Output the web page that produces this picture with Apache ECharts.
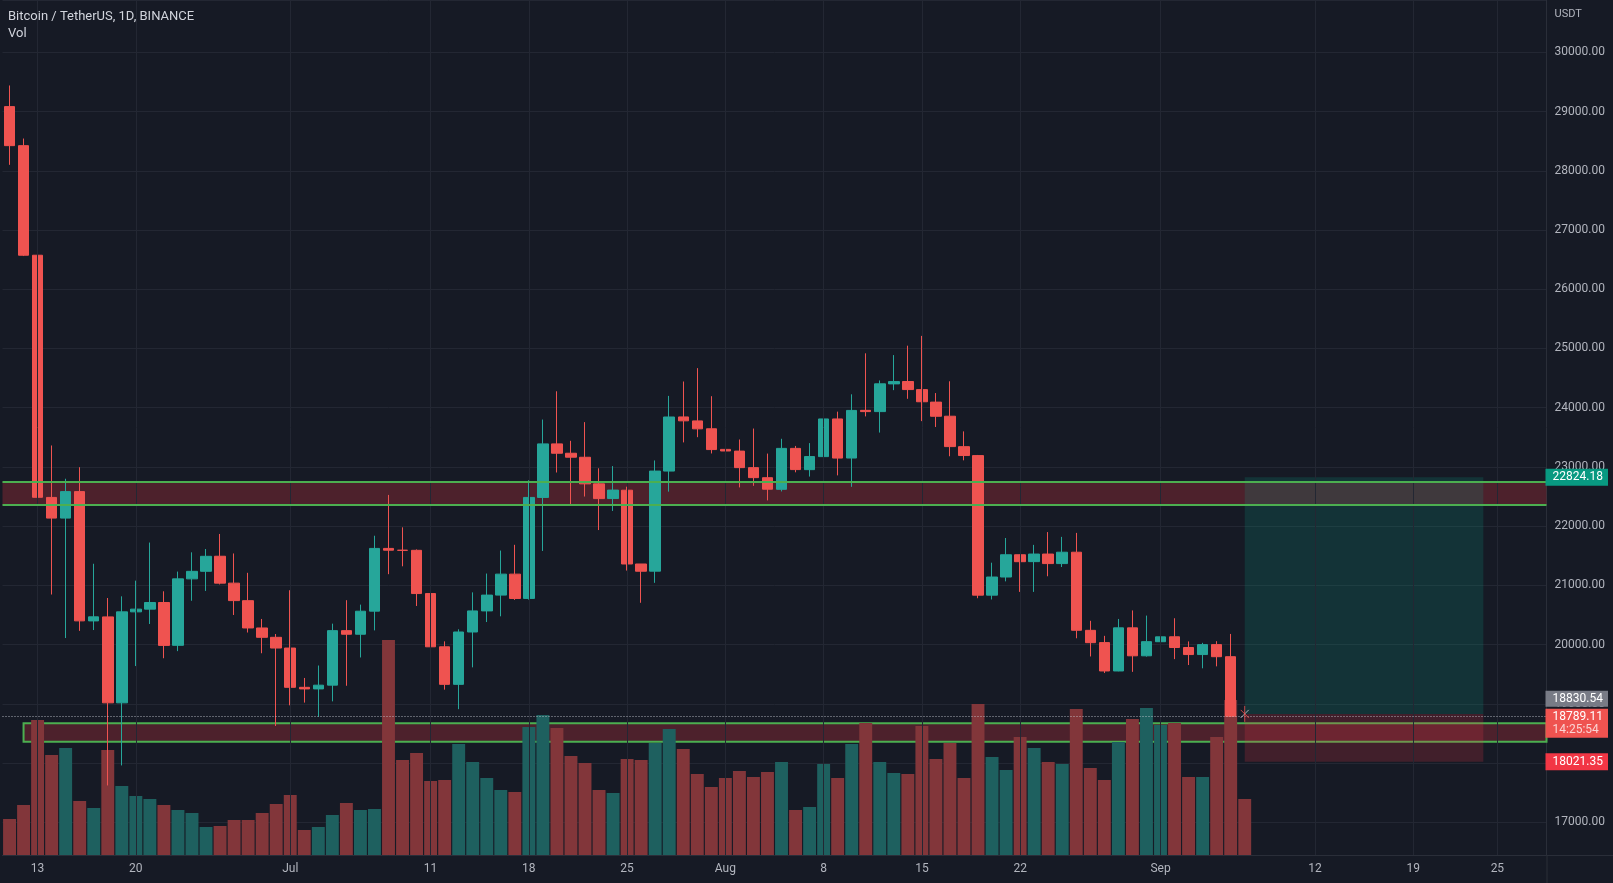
<!DOCTYPE html>
<html>
<head>
<meta charset="utf-8">
<script src="https://cdn.jsdelivr.net/npm/echarts@6/dist/echarts.min.js"></script>
<style>
html,body{margin:0;padding:0;background:#161a25;}
#c{width:1613px;height:883px;}
</style>
</head>
<body>
<div id="c"></div>
<script>
// ---------- DATA ----------
const START_UTC = Date.UTC(2022, 5, 11); // first category: 2022-06-11
const N_DAYS = 110;                      // categories through 2022-09-28

// Daily candles 2022-06-11 .. 2022-09-06
const opens = [29083,28424,26574,22485,22136,22583,20400,20468,19017,20553,
  20599,20711,19988,21110,21238,21492,21038,20742,20281,20123,
  19942,19279,19252,19316,20236,20175,20565,21624,21594,21592,
  20862,19963,19329,20213,20569,20836,21190,20780,22485,23389,
  23231,23163,22714,22466,22607,21361,21240,22930,23844,23777,
  23644,23296,23267,22988,22818,22622,23313,22954,23174,23810,
  23150,23955,23934,24402,24442,24305,24094,23856,23342,23191,
  20835,21141,21517,21401,21529,21368,21560,20241,20034,19555,
  20283,19811,20049,20132,19951,19832,20000,19796];
const highs = [29440,28544,26895,23362,22800,22995,21365,20787,20815,21080,
  21723,20900,21233,21558,21614,21868,21539,21212,20433,20179,
  20918,19437,19647,20354,20750,20675,21838,22527,21980,21607,
  20866,20055,20259,20882,21200,21588,21685,22775,23800,24277,
  23441,23756,22977,23014,22666,21361,23109,24199,24442,24668,
  24194,23509,23463,23648,23225,23475,23354,23402,24245,23933,
  24226,24918,24460,24888,25047,25212,24247,24446,23600,23202,
  21383,21800,21522,21684,21900,21819,21886,20402,20148,20433,
  20577,20490,20208,20445,20054,20030,20058,20180];
const lows = [28100,26560,21925,20846,20111,20232,20246,17622,17960,19638,
  20348,19770,19890,20740,20906,21016,20500,20204,19854,18626,
  18975,19021,18782,19042,19305,19783,20240,21189,21322,20652,
  19875,19240,18910,19616,20381,20478,20755,20760,21581,22906,
  22341,22500,21934,22257,21250,20706,21043,22583,23414,23502,
  23227,22850,22654,22681,22435,22586,22909,22837,23154,22857,
  22664,23853,23580,24296,24150,23773,23674,23180,23111,20783,
  20762,21068,20890,20890,21154,21310,20107,19800,19520,19550,
  19540,19797,19565,19755,19655,19600,19633,18800];
const closes = [28424,26574,22487,22136,22583,20401,20469,19017,20553,20599,
  20711,19987,21110,21237,21491,21038,20743,20281,20123,19942,
  19279,19252,19315,20236,20175,20564,21624,21594,21591,20862,
  19963,19329,20213,20569,20836,21190,20779,22485,23389,23231,
  23164,22714,22465,22609,21361,21239,22930,23843,23778,23643,
  23293,23269,22988,22819,22624,23313,22955,23175,23810,23149,
  23954,23934,24403,24441,24306,24100,23855,23343,23192,20835,
  21141,21517,21400,21529,21368,21560,20242,20033,19555,20283,
  19811,20050,20131,19951,19832,20000,19796,18789.11];

// Volume (thousand BTC, estimated) 2022-06-11 .. 2022-09-07
const volumes = [72,100,270,200,214,108,94,210,138,118,
  112,100,90,84,56,58,70,70,84,102,
  120,50,56,80,104,90,92,430,190,204,
  148,150,222,186,154,130,126,256,280,254,
  198,184,130,124,192,190,224,252,212,162,
  136,154,168,156,166,186,90,96,182,154,
  222,264,186,164,162,258,192,224,154,302,
  196,170,236,214,186,182,292,174,150,226,
  272,294,260,264,156,156,236,310,112];

// Time-axis tick labels
const tickDates = ['2022-06-13','2022-06-20','2022-07-01','2022-07-11','2022-07-18','2022-07-25',
  '2022-08-01','2022-08-08','2022-08-15','2022-08-22','2022-09-01','2022-09-12','2022-09-19','2022-09-25'];
const tickTexts = ['13','20','Jul','11','18','25','Aug','8','15','22','Sep','12','19','25'];

// Drawings
const zoneUpper = [22357, 22750];
const zoneLower = [18361, 18671];
const zoneLowerStart = '2022-06-12';
const posStart = '2022-09-07';
const posEnd = '2022-09-24';
const posTarget = 22824.18;
const posEntry = 18830.54;
const posStop = 18021.35;
const lastPrice = 18789.11;
const countdown = '14:25:54';
const titleText = 'Bitcoin / TetherUS, 1D, BINANCE';
const volText = 'Vol';
const currencyText = 'USDT';
const priceRange = [16448, 30883];
const volumeMax = 1710;

// ---------- BUILD ----------
const dates = [];
for (let i = 0; i < N_DAYS; i++) {
  dates.push(new Date(START_UTC + i * 86400000).toISOString().slice(0, 10));
}
const tickMap = {};
tickDates.forEach((d, i) => { tickMap[d] = tickTexts[i]; });

const UP = '#26a69a', DOWN = '#ef5350';
const UP_VOL = '#1e605f', DOWN_VOL = '#82363a';
const GRID_C = '#232733', AXIS_C = '#2a2e39', TXT = '#b2b5be';
const FONT = 'Roboto, "Liberation Sans", sans-serif';
const ZONE_FILL = 'rgba(242,54,69,0.25)';
const ZONE_LINE = '#4caf50';

const candleData = opens.map((o, i) => [o, closes[i], lows[i], highs[i]]);
const volData = volumes.map((v, i) => ({
  value: v,
  itemStyle: { color: (i < closes.length && closes[i] >= opens[i]) ? UP_VOL : DOWN_VOL }
}));
const emptyData = dates.map(() => null);

const GRID_L = 2.5, GRID_R = 66.5, GRID_B = 28;

const chart = echarts.init(document.getElementById('c'), null, { renderer: 'canvas' });

const option = {
  backgroundColor: '#161a25',
  animation: false,
  textStyle: { fontFamily: FONT },
  grid: { left: GRID_L, right: GRID_R, top: 0, bottom: GRID_B, containLabel: false, outerBoundsMode: 'none' },
  xAxis: {
    type: 'category', data: dates, boundaryGap: true,
    axisLine: { show: true, lineStyle: { color: AXIS_C, width: 1 } },
    axisTick: { show: false },
    splitLine: { show: false },
    axisLabel: {
      interval: (idx, val) => tickMap[val] !== undefined,
      formatter: (val) => tickMap[val] || '',
      color: TXT, fontSize: 12, margin: 8, fontFamily: FONT
    }
  },
  yAxis: [
    {
      type: 'value', position: 'right', min: priceRange[0], max: priceRange[1], splitNumber: 14,
      axisLine: { show: true, lineStyle: { color: AXIS_C, width: 1 } },
      axisTick: { show: false },
      axisLabel: {
        color: TXT, fontSize: 12, margin: 8, fontFamily: FONT,
        showMinLabel: false, showMaxLabel: false,
        formatter: (v) => v.toFixed(2)
      },
      splitLine: { show: true, lineStyle: { color: GRID_C, width: 1 } }
    },
    { type: 'value', min: 0, max: volumeMax, show: false, splitLine: { show: false } }
  ],
  series: [
    { // vertical grid lines at time ticks
      type: 'line', data: emptyData, z: 0, silent: true, showSymbol: false,
      markLine: {
        silent: true, symbol: ['none', 'none'], label: { show: false },
        lineStyle: { color: GRID_C, width: 1, type: 'solid' },
        emphasis: { disabled: true },
        data: tickDates.map(d => ({ xAxis: d }))
      }
    },
    { // volume
      name: 'Vol', type: 'bar', yAxisIndex: 1, data: volData, z: 1, silent: true,
      barCategoryGap: '8%'
    },
    { // horizontal zones
      type: 'line', data: emptyData, z: 2, silent: true, showSymbol: false,
      markArea: {
        silent: true, emphasis: { disabled: true },
        data: [
          [{ yAxis: zoneUpper[1], itemStyle: { color: ZONE_FILL } }, { yAxis: zoneUpper[0] }],
          [{ xAxis: zoneLowerStart, yAxis: zoneLower[1], itemStyle: { color: ZONE_FILL, borderColor: ZONE_LINE, borderWidth: 2 } },
           { yAxis: zoneLower[0] }]
        ]
      },
      markLine: {
        silent: true, symbol: ['none', 'none'], label: { show: false },
        emphasis: { disabled: true },
        lineStyle: { color: ZONE_LINE, width: 2, type: 'solid' },
        data: [{ yAxis: zoneUpper[1] }, { yAxis: zoneUpper[0] }]
      }
    },
    { // candles
      name: 'BTCUSDT', type: 'candlestick', data: candleData, z: 3, silent: true,
      barWidth: 11,
      itemStyle: { color: UP, color0: DOWN, borderColor: UP, borderColor0: DOWN, borderWidth: 1 }
    },
    { // long position tool
      type: 'line', data: emptyData, z: 4, silent: true, showSymbol: false,
      markArea: {
        silent: true, emphasis: { disabled: true },
        data: [
          [{ xAxis: posStart, yAxis: posTarget, itemStyle: { color: 'rgba(8,153,129,0.2)' } }, { xAxis: posEnd, yAxis: posEntry }],
          [{ xAxis: posStart, yAxis: posEntry, itemStyle: { color: 'rgba(242,54,69,0.2)' } }, { xAxis: posEnd, yAxis: posStop }]
        ]
      }
    },
    { // last price line
      type: 'line', data: emptyData, z: 5, silent: true, showSymbol: false,
      markLine: {
        silent: true, symbol: ['none', 'none'], label: { show: false },
        emphasis: { disabled: true },
        lineStyle: { color: 'rgba(209,212,220,0.8)', width: 1, type: [1, 2] },
        data: [{ yAxis: lastPrice }]
      }
    }
  ]
};
chart.setOption(option);

// ---------- overlay labels placed through the price scale ----------
const W = chart.getWidth(), H = chart.getHeight();
const xR = W - GRID_R;
const yB = H - GRID_B;
const py = v => chart.convertToPixel({ yAxisIndex: 0 }, v);
const px = d => chart.convertToPixel({ xAxisIndex: 0 }, d);

function priceBox(yTop, h, color, text, extra) {
  const els = [
    { type: 'rect', z: 100, shape: { x: xR - 1, y: yTop, width: 1608 - xR + 1, height: h }, style: { fill: color } },
    { type: 'text', z: 101, x: xR + 6, y: yTop + (extra ? 8.5 : h / 2), style: { text: text, fill: '#ffffff', font: '12px ' + FONT, textVerticalAlign: 'middle', verticalAlign: 'middle' } }
  ];
  if (extra) {
    els.push({ type: 'text', z: 101, x: xR + 6, y: yTop + 21.5, style: { text: extra, fill: 'rgba(255,255,255,0.75)', font: '12px ' + FONT, textVerticalAlign: 'middle', verticalAlign: 'middle' } });
  }
  return els;
}

const yLast = py(lastPrice);
const lastTop = yLast - 7.5;
const xPos = px(posStart), yEntry = py(posEntry);
const graphics = [
  { type: 'text', z: 100, x: 8, y: 16.5, style: { text: titleText, fill: '#d1d4dc', font: '13px ' + FONT, verticalAlign: 'middle', textVerticalAlign: 'middle' } },
  { type: 'text', z: 100, x: 8, y: 33.5, style: { text: volText, fill: '#d1d4dc', font: '13px ' + FONT, verticalAlign: 'middle', textVerticalAlign: 'middle' } },
  { type: 'text', z: 100, x: xR + 8, y: 14, style: { text: currencyText, fill: TXT, font: '11px ' + FONT, verticalAlign: 'middle', textVerticalAlign: 'middle' } },
  { type: 'line', z: 50, shape: { x1: xR + 0.5, y1: yB, x2: xR + 0.5, y2: H }, style: { stroke: AXIS_C, lineWidth: 1 } },
  { type: 'line', z: 50, shape: { x1: xR, y1: yB + 0.5, x2: W, y2: yB + 0.5 }, style: { stroke: AXIS_C, lineWidth: 1 } },
  // small entry marker of the position tool
  { type: 'line', z: 60, shape: { x1: xPos - 4, y1: yEntry - 4, x2: xPos + 4, y2: yEntry + 4 }, style: { stroke: 'rgba(239,83,80,0.8)', lineWidth: 1 } },
  { type: 'line', z: 60, shape: { x1: xPos - 4, y1: yEntry + 4, x2: xPos + 4, y2: yEntry - 4 }, style: { stroke: 'rgba(209,212,220,0.8)', lineWidth: 1 } },
  { type: 'line', z: 60, shape: { x1: xPos, y1: yEntry - 8, x2: xPos, y2: yEntry + 8 }, style: { stroke: 'rgba(239,83,80,0.8)', lineWidth: 1 } }
]
  .concat(priceBox(py(posTarget) - 8.5, 17, '#089981', posTarget.toFixed(2)))
  .concat(priceBox(lastTop - 18, 16, '#787b86', posEntry.toFixed(2)))
  .concat(priceBox(lastTop, 29, '#ef5350', lastPrice.toFixed(2), countdown))
  .concat(priceBox(py(posStop) - 8.5, 17, '#f23645', posStop.toFixed(2)));

chart.setOption({ graphic: graphics });
</script>
</body>
</html>
